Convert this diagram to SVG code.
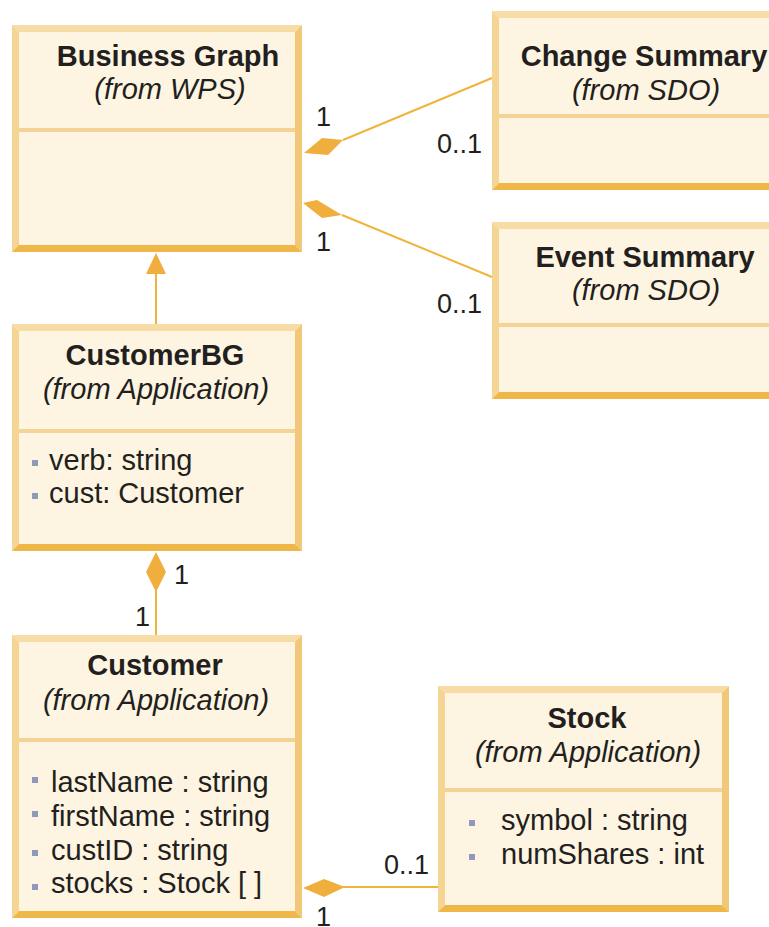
<svg xmlns="http://www.w3.org/2000/svg" width="769" height="927" viewBox="0 0 769 927">
<defs>
<style>
.fill{fill:#fdf5e1}
.top{fill:#f8dca6}
.left{fill:#f5d593}
.right{fill:#f1c878}
.bot{fill:#eeb748}
.sep{stroke:#f4d397;stroke-width:4}
.t{font-family:"Liberation Sans",Arial,sans-serif;font-size:29px;fill:#231f20}
.b{font-weight:bold}
.i{font-style:italic}
.m{text-anchor:middle}
.lbl{font-family:"Liberation Sans",Arial,sans-serif;font-size:27px;fill:#231f20}
.bul{fill:#8f9ab8}
.ln{stroke:#f0b43c;stroke-width:2;fill:none}
.dia{fill:#f0ae3c}
</style>
</defs>
<rect width="769" height="927" fill="#ffffff"/>

<g id="connectors">
<line class="ln" x1="343" y1="140" x2="492" y2="78"/>
<polygon class="dia" points="304,153 322,138 343,140 328,155"/>
<line class="ln" x1="342" y1="215" x2="492" y2="277"/>
<polygon class="dia" points="303,203 317,200 342,215 322,218"/>
<line class="ln" x1="156" y1="272" x2="156" y2="324"/>
<polygon class="dia" points="156,253 166,274 146,274"/>
<polygon class="dia" points="156,552 166,572 156,592 146,572"/>
<line class="ln" x1="156" y1="590" x2="156" y2="635"/>
<polygon class="dia" points="303,888 324,879 345,887 324,897"/>
<line class="ln" x1="343" y1="887" x2="440" y2="887"/>
<text class="lbl" x="316" y="126">1</text>
<text class="lbl" x="437" y="153">0..1</text>
<text class="lbl" x="316" y="251">1</text>
<text class="lbl" x="437" y="313">0..1</text>
<text class="lbl" x="174" y="584">1</text>
<text class="lbl" x="135" y="626">1</text>
<text class="lbl" x="384" y="874">0..1</text>
<text class="lbl" x="316" y="926">1</text>
</g>

<g id="business-graph">
<rect class="fill" x="12" y="25" width="290" height="227"/>
<polygon class="top" points="12,25 302,25 295,32 19,32"/>
<polygon class="left" points="12,25 19,32 19,245 12,252"/>
<polygon class="right" points="302,25 302,252 295,245 295,32"/>
<polygon class="bot" points="12,252 19,245 295,245 302,252"/>
<line class="sep" x1="19" y1="130" x2="295" y2="130"/>
<text class="t b m" x="168" y="66">Business Graph</text>
<text class="t i m" x="170" y="99">(from WPS)</text>
</g>

<g id="change-summary">
<rect class="fill" x="492" y="11" width="290" height="179"/>
<polygon class="top" points="492,11 782,11 775,18 499,18"/>
<polygon class="left" points="492,11 499,18 499,183 492,190"/>
<polygon class="bot" points="492,190 499,183 775,183 782,190"/>
<line class="sep" x1="499" y1="116" x2="782" y2="116"/>
<text class="t b m" x="644" y="66">Change Summary</text>
<text class="t i m" x="646" y="100">(from SDO)</text>
</g>

<g id="event-summary">
<rect class="fill" x="492" y="222" width="290" height="177"/>
<polygon class="top" points="492,222 782,222 775,229 499,229"/>
<polygon class="left" points="492,222 499,229 499,392 492,399"/>
<polygon class="bot" points="492,399 499,392 775,392 782,399"/>
<line class="sep" x1="499" y1="325" x2="782" y2="325"/>
<text class="t b m" x="645" y="267">Event Summary</text>
<text class="t i m" x="646" y="300">(from SDO)</text>
</g>

<g id="customer-bg">
<rect class="fill" x="12" y="324" width="290" height="227"/>
<polygon class="top" points="12,324 302,324 295,331 19,331"/>
<polygon class="left" points="12,324 19,331 19,544 12,551"/>
<polygon class="right" points="302,324 302,551 295,544 295,331"/>
<polygon class="bot" points="12,551 19,544 295,544 302,551"/>
<line class="sep" x1="19" y1="431" x2="295" y2="431"/>
<text class="t b m" x="155" y="365">CustomerBG</text>
<text class="t i m" x="156" y="399">(from Application)</text>
<rect class="bul" x="32" y="460" width="6" height="6"/>
<text class="t" x="49" y="470">verb: string</text>
<rect class="bul" x="32" y="493" width="6" height="6"/>
<text class="t" x="49" y="503">cust: Customer</text>
</g>

<g id="customer">
<rect class="fill" x="12" y="635" width="290" height="283"/>
<polygon class="top" points="12,635 302,635 295,642 19,642"/>
<polygon class="left" points="12,635 19,642 19,911 12,918"/>
<polygon class="right" points="302,635 302,918 295,911 295,642"/>
<polygon class="bot" points="12,918 19,911 295,911 302,918"/>
<line class="sep" x1="19" y1="740" x2="295" y2="740"/>
<text class="t b m" x="155" y="675">Customer</text>
<text class="t i m" x="156" y="710">(from Application)</text>
<rect class="bul" x="32" y="777" width="6" height="6"/>
<text class="t" x="51" y="792">lastName : string</text>
<rect class="bul" x="32" y="811" width="6" height="6"/>
<text class="t" x="51" y="826">firstName : string</text>
<rect class="bul" x="32" y="850" width="6" height="6"/>
<text class="t" x="51" y="860">custID : string</text>
<rect class="bul" x="32" y="884" width="6" height="6"/>
<text class="t" x="51" y="893">stocks : Stock [ ]</text>
</g>

<g id="stock">
<rect class="fill" x="438" y="686" width="291" height="226"/>
<polygon class="top" points="438,686 729,686 722,693 445,693"/>
<polygon class="left" points="438,686 445,693 445,905 438,912"/>
<polygon class="right" points="729,686 729,912 722,905 722,693"/>
<polygon class="bot" points="438,912 445,905 722,905 729,912"/>
<line class="sep" x1="445" y1="790" x2="722" y2="790"/>
<text class="t b m" x="587" y="728">Stock</text>
<text class="t i m" x="588" y="762">(from Application)</text>
<rect class="bul" x="469" y="820" width="6" height="6"/>
<text class="t" x="501" y="830">symbol : string</text>
<rect class="bul" x="469" y="854" width="6" height="6"/>
<text class="t" x="501" y="864">numShares : int</text>
</g>
</svg>
